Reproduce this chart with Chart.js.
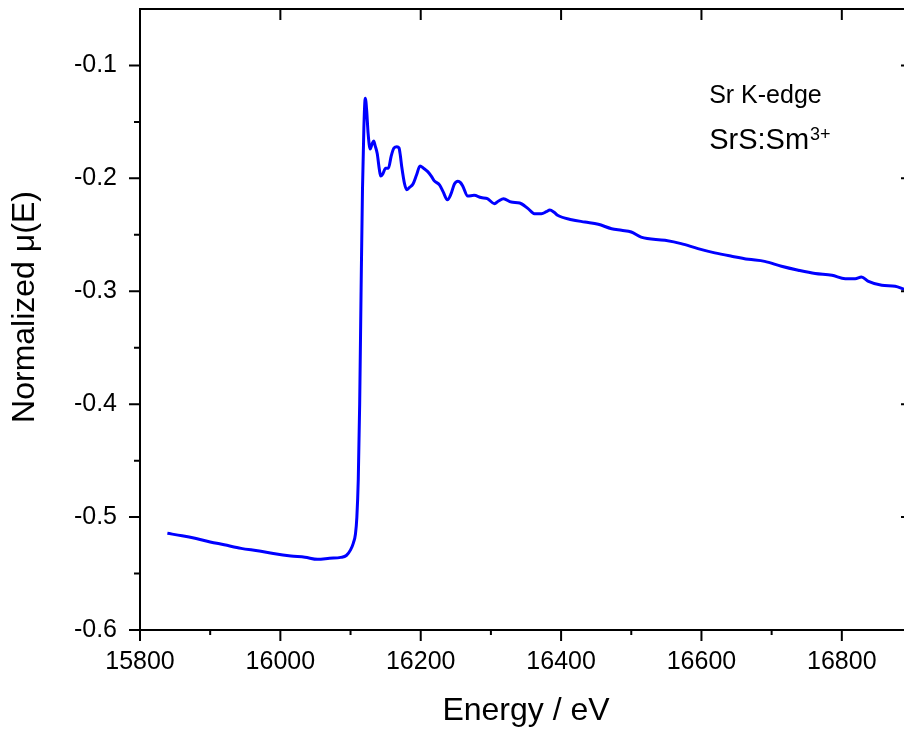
<!DOCTYPE html>
<html>
<head>
<meta charset="utf-8">
<script src="https://cdn.jsdelivr.net/npm/chart.js@4/dist/chart.umd.min.js"></script>
<style>
  html, body { margin: 0; padding: 0; overflow: hidden; background: #fff; }
  #wrap { width: 930px; height: 735px; }
</style>
</head>
<body>
<div id="wrap"><canvas id="xas" width="930" height="735"></canvas></div>
<script>
// Sr K-edge XANES, SrS:Sm3+
const energy = [
  15839, 15860, 15880, 15900, 15920, 15944, 15970, 15990, 16015, 16035,
  16053, 16070, 16086, 16094, 16100, 16104, 16107, 16109, 16111, 16113,
  16115, 16117, 16119, 16121, 16123, 16125, 16128, 16131, 16133, 16135,
  16138, 16141, 16143, 16146, 16150, 16154, 16158, 16162, 16166, 16169,
  16171, 16173, 16177, 16180, 16184, 16189, 16194, 16199, 16204, 16210,
  16215, 16219, 16227, 16232, 16238, 16243, 16248, 16253, 16257, 16260,
  16267, 16276, 16286, 16295, 16305, 16311, 16318, 16329, 16341, 16353,
  16362, 16372, 16379, 16384, 16390, 16395, 16415, 16434, 16453, 16472,
  16486, 16500, 16514, 16548, 16571, 16595, 16619, 16643, 16667, 16690,
  16714, 16738, 16762, 16786, 16805, 16819, 16828, 16838, 16857, 16876,
  16891, 16900
];
const mu = [
  -0.5144, -0.5165, -0.5190, -0.5220, -0.5245, -0.5277, -0.5300, -0.5323, -0.5345, -0.5355,
  -0.5374, -0.5365, -0.5357, -0.5340, -0.5290, -0.5230, -0.5150, -0.5000, -0.4670, -0.4000,
  -0.3000, -0.2100, -0.1550, -0.1290, -0.1400, -0.1600, -0.1740, -0.1690, -0.1670, -0.1710,
  -0.1780, -0.1920, -0.1980, -0.1960, -0.1910, -0.1910, -0.1800, -0.1730, -0.1720, -0.1730,
  -0.1800, -0.1900, -0.2050, -0.2100, -0.2080, -0.2050, -0.1970, -0.1890, -0.1910, -0.1940,
  -0.1980, -0.2020, -0.2060, -0.2120, -0.2190, -0.2140, -0.2050, -0.2025, -0.2040, -0.2070,
  -0.2157, -0.2150, -0.2170, -0.2180, -0.2224, -0.2200, -0.2180, -0.2210, -0.2218, -0.2268,
  -0.2313, -0.2313, -0.2295, -0.2280, -0.2300, -0.2327, -0.2366, -0.2387, -0.2407, -0.2446,
  -0.2460, -0.2475, -0.2520, -0.2549, -0.2578, -0.2622, -0.2660, -0.2690, -0.2717, -0.2735,
  -0.2779, -0.2814, -0.2843, -0.2858, -0.2888, -0.2888, -0.2873, -0.2912, -0.2947, -0.2956,
  -0.2985, -0.2995
];

const xMajor = [15800, 16000, 16200, 16400, 16600, 16800];
const xMinor = [15900, 16100, 16300, 16500, 16700];
const yMajor = [-0.6, -0.5, -0.4, -0.3, -0.2, -0.1];
const yMinor = [-0.55, -0.45, -0.35, -0.25, -0.15];

const FONT = 'Arial, "Liberation Sans", sans-serif';

// box frame with outward ticks on left/bottom, inward on top/right
const frame = {
  id: 'frame',
  afterDatasetsDraw(chart) {
    const c = chart.ctx, a = chart.chartArea;
    const sx = chart.scales.x, sy = chart.scales.y;
    c.save();
    c.strokeStyle = '#000';
    c.lineWidth = 2;
    c.beginPath();
    c.moveTo(a.left, a.top); c.lineTo(a.right, a.top);
    c.moveTo(a.left, a.bottom); c.lineTo(a.right, a.bottom);
    c.moveTo(a.left, a.top - 1); c.lineTo(a.left, a.bottom + 1);
    c.moveTo(a.right, a.top - 1); c.lineTo(a.right, a.bottom + 1);
    xMajor.forEach(v => {
      const p = sx.getPixelForValue(v);
      c.moveTo(p, a.bottom); c.lineTo(p, a.bottom + 11);
      c.moveTo(p, a.top); c.lineTo(p, a.top + 11);
    });
    xMinor.forEach(v => {
      const p = sx.getPixelForValue(v);
      c.moveTo(p, a.bottom); c.lineTo(p, a.bottom + 5);
    });
    yMajor.forEach(v => {
      const p = sy.getPixelForValue(v);
      c.moveTo(a.left - 11, p); c.lineTo(a.left, p);
      c.moveTo(a.right - 11, p); c.lineTo(a.right, p);
    });
    yMinor.forEach(v => {
      const p = sy.getPixelForValue(v);
      c.moveTo(a.left - 6, p); c.lineTo(a.left, p);
    });
    c.stroke();

    // y title
    c.fillStyle = '#000';
    c.font = '32px ' + FONT;
    c.textAlign = 'center';
    c.textBaseline = 'middle';
    c.translate(25, 307);
    c.rotate(-Math.PI / 2);
    c.fillText('Normalized \u03bc(E)', 0, 0);
    c.restore();

    // sample label
    c.save();
    c.fillStyle = '#000';
    c.textAlign = 'left';
    c.textBaseline = 'alphabetic';
    const lx = sx.getPixelForValue(16611);
    c.font = '25px ' + FONT;
    c.fillText('Sr K-edge', lx, sy.getPixelForValue(-0.1334));
    c.font = '29px ' + FONT;
    const base = sy.getPixelForValue(-0.1737);
    c.fillText('SrS:Sm', lx, base);
    const w = c.measureText('SrS:Sm').width;
    c.font = '18px ' + FONT;
    c.fillText('3+', lx + w + 1, base - 9);
    c.restore();
  }
};

const ctx = document.getElementById('xas');

var chart = new Chart(ctx, {
  type: 'line',
  data: {
    datasets: [{
      data: energy.map((e, i) => ({x: e, y: mu[i]})),
      borderColor: 'rgb(0,0,255)',
      borderWidth: 3,
      pointRadius: 0,
      fill: false,
      cubicInterpolationMode: 'monotone'
    }]
  },
  options: {
    responsive: false,
    animation: false,
    devicePixelRatio: 1,
    layout: { padding: { left: 0, top: 9, right: 18, bottom: 0 } },
    plugins: { legend: { display: false }, tooltip: { enabled: false } },
    scales: {
      x: {
        type: 'linear',
        position: 'bottom',
        min: 15800,
        max: 16900,
        grid: { display: false, drawTicks: false },
        border: { display: false },
        afterBuildTicks: s => { s.ticks = xMajor.map(v => ({value: v})); },
        afterFit: s => { s.height = 105; s.paddingLeft = 0; s.paddingRight = 0; },
        ticks: {
          padding: 17,
          color: '#000',
          maxRotation: 0,
          font: { family: FONT, size: 25 },
          callback: v => String(v)
        },
        title: {
          display: true,
          text: 'Energy / eV',
          color: '#000',
          font: { family: FONT, size: 32 },
          padding: { top: 0, bottom: 5 }
        }
      },
      y: {
        type: 'linear',
        position: 'left',
        min: -0.6,
        max: -0.05,
        grid: { display: false, drawTicks: false },
        border: { display: false },
        afterBuildTicks: s => { s.ticks = yMajor.map(v => ({value: v})); },
        afterFit: s => { s.width = 140; s.paddingTop = 0; s.paddingBottom = 0; },
        ticks: {
          padding: 23,
          color: '#000',
          font: { family: FONT, size: 25 },
          callback: v => v.toFixed(1)
        }
      }
    }
  },
  plugins: [frame]
});
</script>
</body>
</html>
